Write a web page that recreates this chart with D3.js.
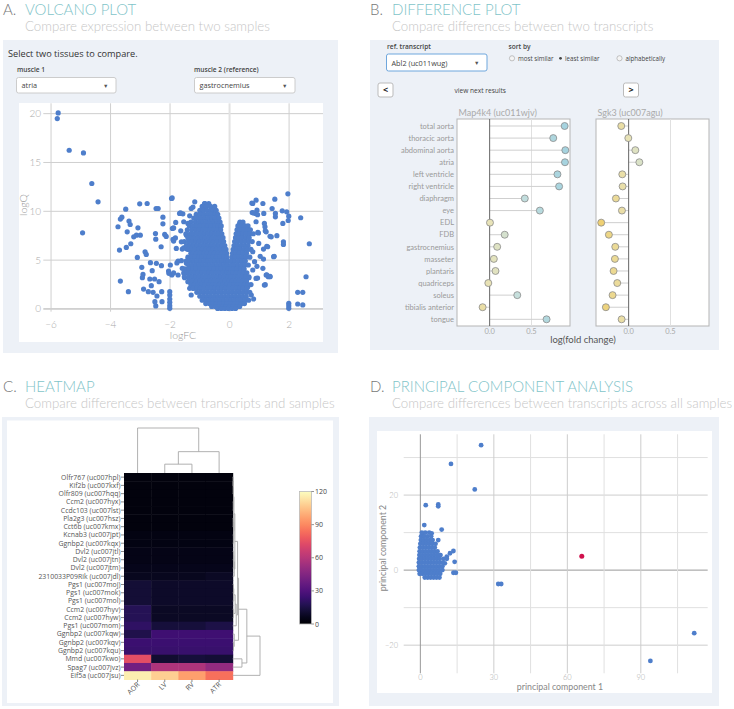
<!DOCTYPE html>
<html><head><meta charset="utf-8">
<script src="https://cdn.jsdelivr.net/npm/d3@7"></script>
<style>body{margin:0;background:#fff;} svg{display:block;font-family:Lato,sans-serif;}</style>
</head><body><svg id="c" width="734" height="709"></svg>
<script>
// ---------------- DATA ----------------
// Panel A: volcano plot (logFC, logQ)
const volcanoScatter = [
[-5.76,20.07],[-5.79,19.5],[-5.39,16.25],[-4.91,15.98],[-4.63,12.85],[-4.42,10.97],[-4.94,7.8],
[-3.75,8.42],[-3.67,9.2],[-3.62,9.4],[-3.7,6.03],[-3.47,6.3],[-3.67,2.86],[-3.4,1.77],[-3.49,10.22],[-3.44,7.9],[-3.38,9.0],[-3.34,8.65],[-3.32,6.68],[-3.22,7.39],[-3.13,7.56],[-3.08,8.31],[-3.1,5.28],[-3.0,7.56],[-3.02,10.77],[-2.95,4.26],[-2.91,3.54],[-2.93,3.2],[-2.89,2.04],[-2.84,5.86],[-2.77,10.8],[-2.8,5.59],[-2.73,1.77],[-2.68,3.07],[-2.66,4.74],[-2.63,2.39],[-2.6,3.92],[-2.57,1.7],[-2.52,3.07],[-2.49,7.73],[-2.48,7.15],[-2.47,10.29],[-2.46,4.67],[-2.44,1.33],[-2.51,0.75],[-2.48,0.31],[-2.4,10.29],[-2.37,2.79],[-2.3,6.37],[-2.29,4.43],[-2.28,1.77],[-2.27,0.75],[-2.24,9.4],[-2.24,8.72],[-2.18,7.63],[-2.13,7.43],[-2.05,3.88],[-2.01,1.77],[-2.01,1.43],[-2.01,1.02],[-2.01,0.68],[-2.01,0.34],[-2.01,0.07],[-1.99,4.5],[-1.95,11.31],[-1.92,8.25],[-1.9,7.12],[-1.88,6.95],[-2.04,3.65],[-1.94,3.48],[-1.81,8.86],[-1.79,6.2],[-1.73,4.91],[-1.73,3.48],[-1.68,9.78],[-1.64,8.0],[-1.62,6.88],[-1.59,6.13],[-1.57,9.74],[-1.54,8.93],[-1.59,4.16],[-1.51,3.2],[-1.45,7.56],[-1.43,6.13],[-1.4,8.76],[-1.34,9.54],[-1.29,10.29],[-1.23,10.43],[-1.17,10.97],[-1.62,4.94],[-1.45,4.67],[-1.45,3.82],[-1.4,2.79],[-1.34,2.11],[-1.29,1.43],
[-1.93,11.37],[-1.65,9.83],[-1.88,8.3],[-1.82,7.27],[-1.54,6.25],[-1.77,4.71],[-1.88,3.69],[-1.54,3.69],
[-0.83,10.8],[-0.87,10.12],[-0.98,9.78],[-0.56,10.36],[-0.5,10.02],[-0.62,9.78],
[0.34,8.76],[0.56,8.42],[0.61,7.9],[0.78,10.8],[0.89,11.14],[0.92,10.12],[0.87,9.78],[0.76,9.88],[0.89,8.93],[0.95,7.84],[1.12,10.8],[1.15,9.78],[1.17,8.76],[1.19,8.42],[1.2,8.0],[1.23,7.9],[1.28,6.37],[1.14,6.13],[1.14,5.11],[1.12,4.16],[1.17,2.45],[0.89,3.13],[1.23,3.48],[1.3,3.3],[1.36,3.3],[1.4,7.39],[1.43,10.29],[1.52,11.24],[1.54,9.78],[1.54,9.44],[1.59,7.5],[1.48,5.35],[1.77,10.05],[1.79,8.76],[1.81,6.88],[1.81,6.61],[1.92,9.95],[1.96,11.79],[1.99,9.5],[1.97,9.06],[2.39,9.34],[2.68,6.68],[2.57,3.3],[2.29,1.7],[2.46,1.7],[2.29,0.51],[2.46,0.41],[1.99,0.58],[1.99,0.34],[1.99,0.07],[0.98,6.71],[0.78,5.86],[0.84,4.84],[0.78,3.99],[0.65,3.2],[0.61,2.28],[0.73,1.43],[0.81,1.02],
[0.75,10.85],[0.97,7.78],[1.36,7.44],[1.03,5.39],[1.25,6.42],[0.92,4.37],[0.94,3.17],[1.2,2.49],[1.36,3.34],[1.25,3.5],[1.5,5.39],[0.94,9.66],[0.8,9.83]
];
// dense core of the volcano, read row by row: [logQ, [logFC...]]
const volcanoDenseRows = [
[10.8,[-0.84,-0.7]],
[10.5,[-0.92,-0.78,-0.64,-0.5]],
[10.1,[-1.0,-0.88,-0.76,-0.64,-0.55,-0.45]],
[9.7,[-1.12,-0.98,-0.86,-0.74,-0.62,-0.5,-0.4]],
[9.3,[-1.2,-1.08,-0.96,-0.84,-0.72,-0.6,-0.48,-0.36]],
[8.9,[-1.3,-1.15,-1.02,-0.9,-0.78,-0.66,-0.54,-0.42,-0.32,0.35,0.45]],
[8.5,[-1.35,-1.22,-1.1,-0.98,-0.86,-0.74,-0.62,-0.5,-0.38,-0.28,0.28,0.4,0.52,0.62]],
[8.1,[-1.42,-1.27,-1.14,-1.02,-0.9,-0.78,-0.66,-0.54,-0.42,-0.3,0.25,0.36,0.48,0.6,0.7]],
[7.7,[-1.47,-1.32,-1.2,-1.08,-0.96,-0.84,-0.72,-0.6,-0.48,-0.36,-0.26,0.22,0.33,0.44,0.56,0.68,0.8]],
[7.3,[-1.4,-1.3,-1.18,-1.06,-0.94,-0.82,-0.7,-0.58,-0.46,-0.34,-0.22,0.2,0.3,0.42,0.54,0.66]],
[6.9,[-1.52,-1.38,-1.26,-1.14,-1.02,-0.9,-0.78,-0.66,-0.54,-0.42,-0.3,-0.2,0.17,0.28,0.4,0.52,0.64,0.76]],
[6.5,[-1.45,-1.33,-1.21,-1.09,-0.97,-0.85,-0.73,-0.61,-0.49,-0.37,-0.25,-0.16,0.15,0.26,0.38,0.5,0.62]],
[6.1,[-1.38,-1.28,-1.16,-1.04,-0.92,-0.8,-0.68,-0.56,-0.44,-0.32,-0.2,-0.12,0.12,0.24,0.36,0.48,0.6,0.72]],
[5.7,[-1.3,-1.23,-1.11,-0.99,-0.87,-0.75,-0.63,-0.51,-0.39,-0.27,-0.16,-0.1,0.1,0.21,0.33,0.45,0.57]],
[5.3,[-1.4,-1.28,-1.16,-1.04,-0.92,-0.8,-0.68,-0.56,-0.44,-0.32,-0.2,-0.09,0.08,0.19,0.31,0.43,0.55,0.68]],
[4.9,[-1.46,-1.33,-1.21,-1.09,-0.97,-0.85,-0.73,-0.61,-0.49,-0.37,-0.25,-0.13,-0.06,0.06,0.17,0.29,0.41,0.53]],
[4.5,[-1.38,-1.26,-1.14,-1.02,-0.9,-0.78,-0.66,-0.54,-0.42,-0.3,-0.18,-0.07,0.05,0.15,0.27,0.39,0.51,0.63]],
[4.1,[-1.5,-1.36,-1.24,-1.12,-1.0,-0.88,-0.76,-0.64,-0.52,-0.4,-0.28,-0.16,-0.05,0.04,0.13,0.25,0.37,0.49]],
[3.7,[-1.42,-1.3,-1.18,-1.06,-0.94,-0.82,-0.7,-0.58,-0.46,-0.34,-0.22,-0.1,-0.02,0.03,0.12,0.23,0.35,0.47,0.58]],
[3.3,[-1.52,-1.38,-1.26,-1.14,-1.02,-0.9,-0.78,-0.66,-0.54,-0.42,-0.3,-0.18,-0.06,0.06,0.18,0.3,0.42,0.54,0.65]],
[2.9,[-1.35,-1.23,-1.11,-0.99,-0.87,-0.75,-0.63,-0.51,-0.39,-0.27,-0.15,-0.03,0.09,0.21,0.33,0.45,0.57]],
[2.5,[-1.3,-1.18,-1.06,-0.94,-0.82,-0.7,-0.58,-0.46,-0.34,-0.22,-0.1,0.02,0.14,0.26,0.38,0.5,0.62,0.72]],
[2.1,[-1.22,-1.1,-0.98,-0.86,-0.74,-0.62,-0.5,-0.38,-0.26,-0.14,-0.02,0.1,0.22,0.34,0.46,0.58]],
[1.7,[-1.1,-0.98,-0.86,-0.74,-0.62,-0.5,-0.38,-0.26,-0.14,-0.02,0.1,0.22,0.34,0.46,0.58,0.68]],
[1.3,[-1.0,-0.88,-0.76,-0.64,-0.52,-0.4,-0.28,-0.16,-0.04,0.08,0.2,0.32,0.44,0.56]],
[0.9,[-0.92,-0.8,-0.68,-0.56,-0.44,-0.32,-0.2,-0.08,0.04,0.16,0.28,0.4,0.52,0.64]],
[0.55,[-0.8,-0.68,-0.56,-0.44,-0.32,-0.2,-0.08,0.04,0.16,0.28,0.4,0.5]],
[0.25,[-0.6,-0.48,-0.36,-0.24,-0.12,0.0,0.12,0.24,0.34]],
[0.05,[-0.4,-0.28,-0.16,-0.04,0.08,0.2]]
];
const volcanoXTicks = [-6,-4,-2,0,2];
const volcanoYTicks = [0,5,10,15,20];

// Panel B: difference plot
const tissues = ["total aorta","thoracic aorta","abdominal aorta","atria","left ventricle","right ventricle","diaphragm","eye","EDL","FDB","gastrocnemius","masseter","plantaris","quadriceps","soleus","tibialis anterior","tongue"];
const map4k4 = [0.896,0.76,0.904,0.90,0.81,0.83,0.42,0.60,0.004,0.18,0.09,0.05,0.07,-0.016,0.33,-0.084,0.68];
const sgk3 = [-0.088,-0.004,0.08,0.128,-0.076,-0.072,-0.152,-0.08,-0.328,-0.236,-0.16,-0.164,-0.18,-0.136,-0.192,-0.272,-0.084];
const diffTicks = [0, 0.5];

// Panel C: heatmap
const hmRows = ["Olfr767 (uc007hpl)","Kif2b (uc007kxf)","Olfr809 (uc007hqq)","Ccm2 (uc007hyx)","Ccdc103 (uc007lst)","Pla2g3 (uc007hsz)","Cct6b (uc007kmx)","Kcnab3 (uc007jpt)","Ggnbp2 (uc007kqx)","Dvl2 (uc007jtl)","Dvl2 (uc007jtn)","Dvl2 (uc007jtm)","2310033P09Rik (uc007jdl)","Pgs1 (uc007moj)","Pgs1 (uc007mok)","Pgs1 (uc007mol)","Ccm2 (uc007hyv)","Ccm2 (uc007hyw)","Pgs1 (uc007mom)","Ggnbp2 (uc007kqw)","Ggnbp2 (uc007kqv)","Ggnbp2 (uc007kqu)","Mmd (uc007kwo)","Spag7 (uc007jvz)","Eif5a (uc007jsu)"];
const hmCols = ["AOR","LV","RV","ATR"];
const hmValues = [
[3,3,3,3],[3,3,3,3],[3,3,3,3],[3,3,3,3],[3,3,3,3],[3,3,3,3],[3,3,3,3],[4,4,4,4],[4,4,4,4],
[5,5,5,5],[5,5,5,5],[6,6,6,6],[7,7,7,8],
[12,9,9,9],[12,9,9,9],[12,9,9,9],
[18,8,8,8],[18,8,8,8],[21,13,13,15],
[16,25,25,25],[24,24,24,24],[23,23,23,23],
[74,11,13,12],[40,58,58,50],[116,108,96,84]
];
const hmColorTicks = [0,30,60,90,120];
// dendrograms: [height, left, right], leaves are row/column indices
const rowTree = [28,[14.5,[6,[5,[2.2,[1.3,[0.8,[0.5,[0.4,0,1],2],[0.6,3,4]],[1.0,[0.5,5,6],[0.7,7,8]]],[1.6,[1.0,[0.8,9,10],11],12]],[3.6,[2.5,[1.1,[0.8,13,14],15],[0.9,16,17]],18]],[1.6,19,[0.8,20,21]]],[9.5,22,23]],24];
const colTree = [44.3,0,[21,[8.7,1,2],3]];

// Panel D: PCA
const pcaScatter = [[24.8,33.3],[12.5,28.3],[22.2,21.5],[2.2,17.3],[7.3,17.5],[7.3,17.0],[1.6,12.0],[8.7,10.8],[0.8,9.6],[4.6,9.8],[7.3,8.0],[13.5,5.1],[12.1,4.5],[8.0,4.0],[14.0,2.2],[13.5,-0.7],[14.5,-0.7],[10.0,1.8],[10.8,3.6],[31.8,-3.7],[33.0,-3.7],[93.9,-24.2],[111.8,-16.8]];
const pcaDenseRows = [
[10,[0.6,2.0,3.6]],
[9,[0.3,1.5,2.9,4.4]],
[8,[0.2,1.3,2.5,3.8,5.0]],
[7,[0.0,1.2,2.4,3.6,4.9,6.2]],
[6,[-0.2,1.0,2.2,3.5,4.7,5.9]],
[5,[-0.3,0.9,2.1,3.3,4.5,5.7,7.0]],
[4,[-0.4,0.8,2.0,3.2,4.4,5.6,6.8,8.2]],
[3,[-0.5,0.7,1.9,3.1,4.3,5.5,6.7,7.9,9.5,10.8]],
[2,[-0.6,0.6,1.8,3.0,4.2,5.4,6.6,7.8,9.1]],
[1,[-0.6,0.6,1.8,3.0,4.2,5.4,6.6,7.8,9.0]],
[0,[-0.6,0.5,1.7,2.9,4.1,5.3,6.5,7.7,9.0]],
[-1,[-0.3,0.9,2.1,3.3,4.5,5.7,6.9,8.1]],
[-2,[1.8,3.0,4.2,5.4,6.6,7.8]]
];
const pcaHighlight = [[65.9,3.7]];
const pcaXTicks = [0,30,60,90];
const pcaYTicks = [-20,0,20];

// ---------------- DRAW ----------------
const svg = d3.select("#c");
const PANEL = "#edf1f7", TEAL = "#7fc4c9", BLUE = "#4e7ecb";

function header(x, y, letter, title, sub) {
  svg.append("text").attr("x", x).attr("y", y).attr("font-size", 15).attr("font-weight", 300).attr("fill", "#777").text(letter);
  svg.append("text").attr("x", x + 22).attr("y", y).attr("font-size", 15).attr("font-weight", 300).attr("fill", TEAL).text(title);
  svg.append("text").attr("x", x + 22).attr("y", y + 16.5).attr("font-size", 13.3).attr("font-weight", 300).attr("fill", "#c6c6c6").text(sub);
}
header(3, 14.5, "A.", "VOLCANO PLOT", "Compare expression between two samples");
header(370, 14.5, "B.", "DIFFERENCE PLOT", "Compare differences between two transcripts");
header(3, 391.5, "C.", "HEATMAP", "Compare differences between transcripts and samples");
header(370, 391.5, "D.", "PRINCIPAL COMPONENT ANALYSIS", "Compare differences between transcripts across all samples");

// panel backgrounds
svg.append("rect").attr("x", 3).attr("y", 40).attr("width", 335).attr("height", 313).attr("fill", PANEL);
svg.append("rect").attr("x", 370).attr("y", 40).attr("width", 349).attr("height", 310).attr("fill", PANEL);
svg.append("rect").attr("x", 2).attr("y", 417).attr("width", 337).attr("height", 289).attr("fill", PANEL);
svg.append("rect").attr("x", 369).attr("y", 417).attr("width", 350).attr("height", 289).attr("fill", PANEL);

const UI = "'Open Sans', sans-serif";
function dropdown(x, y, w, h, label, stroke) {
  svg.append("rect").attr("x", x).attr("y", y).attr("width", w).attr("height", h).attr("rx", 2)
    .attr("fill", "#fff").attr("stroke", stroke).attr("stroke-width", 1);
  svg.append("text").attr("x", x + 5).attr("y", y + h / 2 + 3).attr("font-family", UI).attr("font-size", 7.3).attr("fill", "#444").text(label);
  svg.append("text").attr("x", x + w - 13).attr("y", y + h / 2 + 2.5).attr("font-family", UI).attr("font-size", 5.5).attr("fill", "#555").text("▼");
}

// ---- Panel A ----
svg.append("text").attr("x", 8).attr("y", 57).attr("font-family", UI).attr("font-size", 9.2).attr("fill", "#333").text("Select two tissues to compare.");
svg.append("text").attr("x", 17).attr("y", 71.5).attr("font-family", UI).attr("font-size", 6.6).attr("font-weight", 600).attr("fill", "#444").text("muscle 1");
svg.append("text").attr("x", 194).attr("y", 71.5).attr("font-family", UI).attr("font-size", 6.6).attr("font-weight", 600).attr("fill", "#444").text("muscle 2 (reference)");
dropdown(16.5, 77.5, 99.5, 15.5, "atria", "#ccc");
dropdown(194.5, 77.5, 100.5, 15.5, "gastrocnemius", "#ccc");

svg.append("rect").attr("x", 19).attr("y", 103).attr("width", 304).attr("height", 239).attr("fill", "#fff");
const vx = d3.scaleLinear().domain([-6.26, 3.14]).range([43.3, 323]);
const vy = d3.scaleLinear().domain([-0.28, 21.06]).range([311.7, 103.3]);
const gA = svg.append("g");
volcanoYTicks.forEach(t => {
  gA.append("line").attr("x1", vx.range()[0]).attr("x2", vx.range()[1]).attr("y1", vy(t)).attr("y2", vy(t))
    .attr("stroke", t === 0 ? "#aaa" : "#cfcfcf").attr("stroke-width", 1);
});
volcanoXTicks.forEach(t => {
  gA.append("line").attr("x1", vx(t)).attr("x2", vx(t)).attr("y1", vy.range()[0]).attr("y2", vy.range()[1])
    .attr("stroke", t === 0 ? "#e2e2e2" : "#cfcfcf").attr("stroke-width", t === 0 ? 2 : 1);
});
const fmt = d3.format("");
gA.selectAll(".vxt").data(volcanoXTicks).join("text").attr("x", d => vx(d)).attr("y", 328)
  .attr("text-anchor", "middle").attr("font-size", 10).attr("font-weight", 300).attr("fill", "#aaa").text(fmt);
gA.selectAll(".vyt").data(volcanoYTicks).join("text").attr("x", 41).attr("y", d => vy(d) + 3.5)
  .attr("text-anchor", "end").attr("font-size", 10).attr("font-weight", 300).attr("fill", "#aaa").text(fmt);
gA.append("text").attr("x", 183).attr("y", 339).attr("text-anchor", "middle").attr("font-size", 10.5).attr("font-weight", 300).attr("fill", "#999").text("logFC");
gA.append("text").attr("transform", "translate(27,205) rotate(-90)").attr("text-anchor", "middle").attr("font-size", 10.5).attr("font-weight", 300).attr("fill", "#999").text("logQ");
const volcanoAll = volcanoScatter.concat(volcanoDenseRows.flatMap(r => r[1].map(fc => [fc, r[0]])));
gA.append("g").selectAll("circle").data(volcanoAll).join("circle")
  .attr("cx", d => vx(d[0])).attr("cy", d => vy(d[1])).attr("r", 2.6).attr("fill", BLUE);

// ---- Panel B ----
svg.append("text").attr("x", 387).attr("y", 48.5).attr("font-family", UI).attr("font-size", 6.6).attr("font-weight", 600).attr("fill", "#444").text("ref. transcript");
svg.append("text").attr("x", 508.5).attr("y", 48.5).attr("font-family", UI).attr("font-size", 6.6).attr("font-weight", 600).attr("fill", "#444").text("sort by");
dropdown(386.5, 54, 100.5, 17, "Abl2 (uc011wug)", "#6fa7dd");
const radios = [["most similar", 512, false], ["least similar", 560.5, true], ["alphabetically", 619.5, false]];
radios.forEach(r => {
  if (r[2]) svg.append("circle").attr("cx", r[1]).attr("cy", 58.3).attr("r", 1.4).attr("fill", "#444");
  else svg.append("circle").attr("cx", r[1]).attr("cy", 58.3).attr("r", 2.6).attr("fill", "#f4f4f4").attr("stroke", "#aaa").attr("stroke-width", 0.7);
  svg.append("text").attr("x", r[1] + (r[2] ? 4.5 : 6)).attr("y", 60.6).attr("font-family", UI).attr("font-size", 6.2).attr("fill", "#444").text(r[0]);
});
function button(x, label) {
  svg.append("rect").attr("x", x).attr("y", 83).attr("width", 15).attr("height", 14).attr("rx", 2).attr("fill", "#fff").attr("stroke", "#bbb");
  svg.append("text").attr("x", x + 7.5).attr("y", 93.3).attr("text-anchor", "middle").attr("font-family", UI).attr("font-size", 9).attr("font-weight", 700).attr("fill", "#222").text(label);
}
button(378, "<");
button(623.5, ">");
svg.append("text").attr("x", 454.5).attr("y", 93).attr("font-family", UI).attr("font-size", 6.6).attr("fill", "#444").text("view next results");

const diffColor = d3.scaleLinear().domain([-0.35, 0, 0.3, 0.9]).range(["#efcf6e", "#e8e3b8", "#c8e0dc", "#a6d3df"]);
const rowY = d3.scalePoint().domain(tissues).range([126, 319.3]);
function lollipop(x0, title, vals) {
  const x = d3.scaleLinear().domain([-0.39, 0.96]).range([x0, x0 + 113]);
  const g = svg.append("g");
  g.append("rect").attr("x", x0).attr("y", 119).attr("width", 113).attr("height", 207).attr("fill", "#fff").attr("stroke", "#b5b5b5");
  g.append("line").attr("x1", x(0.5)).attr("x2", x(0.5)).attr("y1", 119).attr("y2", 326).attr("stroke", "#e0e0e0");
  g.selectAll(".stem").data(vals).join("line").attr("x1", x(0)).attr("x2", d => x(d))
    .attr("y1", (d, i) => rowY(tissues[i])).attr("y2", (d, i) => rowY(tissues[i])).attr("stroke", "#cfcfcf");
  g.append("line").attr("x1", x(0)).attr("x2", x(0)).attr("y1", 119).attr("y2", 326).attr("stroke", "#666");
  g.selectAll("circle").data(vals).join("circle").attr("cx", d => x(d)).attr("cy", (d, i) => rowY(tissues[i]))
    .attr("r", 3.5).attr("fill", d => diffColor(d)).attr("stroke", "#8a8a8a").attr("stroke-width", 0.8);
  g.selectAll(".tk").data(diffTicks).join("text").attr("x", d => x(d)).attr("y", 334).attr("text-anchor", "middle")
    .attr("font-size", 7.5).attr("fill", "#aaa").text(d3.format(".1f"));
  g.append("text").attr("x", x0 + 1.5).attr("y", 116).attr("font-size", 9).attr("fill", "#aaa").text(title);
}
lollipop(457, "Map4k4 (uc011wjv)", map4k4);
lollipop(596, "Sgk3 (uc007agu)", sgk3);
svg.append("g").selectAll("text").data(tissues).join("text").attr("x", 454).attr("y", d => rowY(d) + 2.7)
  .attr("text-anchor", "end").attr("font-size", 7.5).attr("fill", "#9a9a9a").text(d => d);
svg.append("text").attr("x", 583).attr("y", 343).attr("text-anchor", "middle").attr("font-size", 9.5).attr("fill", "#555").text("log(fold change)");

// ---- Panel C ----
svg.append("rect").attr("x", 7).attr("y", 420.5).attr("width", 326).attr("height", 282.5).attr("fill", "#fff");
const hx = d3.scaleBand().domain(hmCols).range([124, 232.7]);
const hy = d3.scaleBand().domain(hmRows).range([473, 679.5]);
const hColor = d3.scaleSequential(d3.interpolateMagma).domain([0, 120]);
const gC = svg.append("g");
hmValues.forEach((row, i) => row.forEach((v, j) => {
  gC.append("rect").attr("x", hx(hmCols[j])).attr("y", hy(hmRows[i])).attr("width", hx.bandwidth() + 0.5)
    .attr("height", hy.bandwidth() + 0.5).attr("fill", hColor(v));
}));
const HF = "'Open Sans', sans-serif";
hmRows.forEach(r => {
  const y = hy(r) + hy.bandwidth() / 2;
  gC.append("line").attr("x1", 121).attr("x2", 124).attr("y1", y).attr("y2", y).attr("stroke", "#555").attr("stroke-width", 0.7);
  gC.append("text").attr("x", 120.5).attr("y", y + 2.4).attr("text-anchor", "end").attr("font-family", HF).attr("font-size", 6.9).attr("fill", "#555").text(r);
});
hmCols.forEach(c => {
  const x = hx(c) + hx.bandwidth() / 2;
  gC.append("line").attr("x1", x).attr("x2", x).attr("y1", 679.5).attr("y2", 682).attr("stroke", "#555").attr("stroke-width", 0.7);
  gC.append("text").attr("transform", `translate(${x + 2.5},${685}) rotate(-45)`).attr("text-anchor", "end")
    .attr("font-family", HF).attr("font-size", 7).attr("fill", "#555").text(c);
});
function dendro(tree, leafPos, hScale, horizontal, g) {
  const segs = [];
  function walk(n) {
    if (typeof n === "number") return { p: leafPos(n), h: 0 };
    const a = walk(n[1]), b = walk(n[2]);
    segs.push([a.p, a.h, a.p, n[0]], [b.p, b.h, b.p, n[0]], [a.p, n[0], b.p, n[0]]);
    return { p: (a.p + b.p) / 2, h: n[0] };
  }
  walk(tree);
  g.selectAll("line").data(segs).join("line")
    .attr("x1", s => horizontal ? hScale(s[1]) : s[0]).attr("y1", s => horizontal ? s[0] : hScale(s[1]))
    .attr("x2", s => horizontal ? hScale(s[3]) : s[2]).attr("y2", s => horizontal ? s[2] : hScale(s[3]))
    .attr("stroke", "#a8a8a8").attr("stroke-width", 0.9);
}
dendro(rowTree, i => hy(hmRows[i]) + hy.bandwidth() / 2, d3.scaleLinear().domain([0, 28]).range([232.7, 260]), true, svg.append("g"));
dendro(colTree, i => hx(hmCols[i]) + hx.bandwidth() / 2, d3.scaleLinear().domain([0, 44.3]).range([473, 428]), false, svg.append("g"));
// colour bar
const defs = svg.append("defs");
const grad = defs.append("linearGradient").attr("id", "mg").attr("x1", 0).attr("y1", 1).attr("x2", 0).attr("y2", 0);
d3.range(0, 1.0001, 0.05).forEach(t => grad.append("stop").attr("offset", t).attr("stop-color", d3.interpolateMagma(t)));
const cby = d3.scaleLinear().domain([0, 120]).range([624, 491.5]);
svg.append("rect").attr("x", 299.5).attr("y", 491.5).attr("width", 12).attr("height", 132.5).attr("fill", "url(#mg)").attr("stroke", "#bbb").attr("stroke-width", 0.8);
hmColorTicks.forEach(t => {
  svg.append("line").attr("x1", 311.5).attr("x2", 314).attr("y1", cby(t)).attr("y2", cby(t)).attr("stroke", "#666").attr("stroke-width", 0.7);
  svg.append("text").attr("x", 315).attr("y", cby(t) + 2.5).attr("font-family", HF).attr("font-size", 7).attr("fill", "#444").text(t);
});

// ---- Panel D ----
svg.append("rect").attr("x", 377).attr("y", 431).attr("width", 335).attr("height", 262).attr("fill", "#fff");
const px = d3.scaleLinear().domain([-6.8, 117.3]).range([403.7, 707.7]);
const py = d3.scaleLinear().domain([-27.5, 36.2]).range([673.3, 434.3]);
const gD = svg.append("g");
[-20, -10, 0, 10, 20, 30].forEach(t => gD.append("line").attr("x1", 403.7).attr("x2", 707.7).attr("y1", py(t)).attr("y2", py(t))
  .attr("stroke", t === 0 ? "#999" : (t % 20 === 0 ? "#cdcdcd" : "#e0e0e0")));
[0, 15, 30, 45, 60, 75, 90, 105].forEach(t => gD.append("line").attr("x1", px(t)).attr("x2", px(t)).attr("y1", 434.3).attr("y2", 673.3)
  .attr("stroke", t === 0 ? "#999" : (t % 30 === 0 ? "#cdcdcd" : "#e0e0e0")));
gD.selectAll(".xt").data(pcaXTicks).join("text").attr("x", d => px(d)).attr("y", 679.5).attr("text-anchor", "middle")
  .attr("font-size", 7.5).attr("font-weight", 300).attr("fill", "#aaa").text(fmt);
gD.selectAll(".yt").data(pcaYTicks).join("text").attr("x", 398).attr("y", d => py(d) + 3).attr("text-anchor", "end")
  .attr("font-size", 7.5).attr("font-weight", 300).attr("fill", "#aaa").text(fmt);
gD.append("text").attr("x", 560).attr("y", 690).attr("text-anchor", "middle").attr("font-size", 8.8).attr("fill", "#888").text("principal component 1");
gD.append("text").attr("transform", "translate(386,548) rotate(-90)").attr("text-anchor", "middle").attr("font-size", 8.8).attr("fill", "#888").text("principal component 2");
const pcaAll = pcaScatter.concat(pcaDenseRows.flatMap(r => r[1].map(v => [v, r[0]])));
gD.append("g").selectAll("circle").data(pcaAll).join("circle").attr("cx", d => px(d[0])).attr("cy", d => py(d[1])).attr("r", 2.4).attr("fill", BLUE);
gD.append("g").selectAll("circle").data(pcaHighlight).join("circle").attr("cx", d => px(d[0])).attr("cy", d => py(d[1])).attr("r", 2.5).attr("fill", "#d0104c");
</script></body></html>
